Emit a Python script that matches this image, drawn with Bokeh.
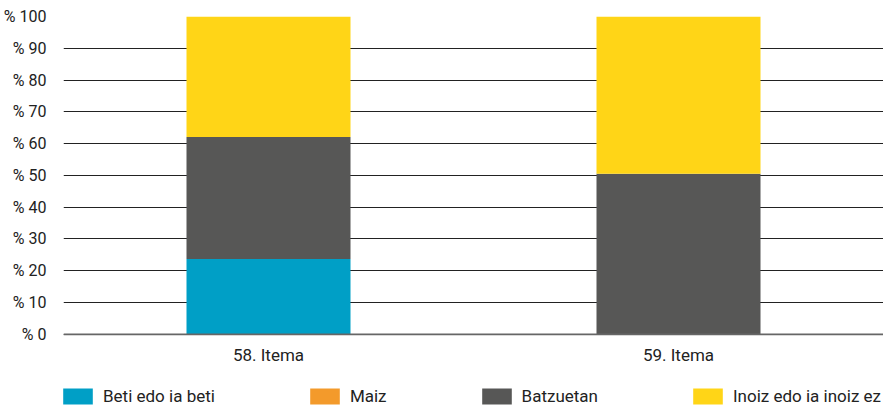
from bokeh.plotting import figure
from bokeh.models import ColumnDataSource, FixedTicker, Legend, LegendItem, FactorRange, Span
from bokeh.core.properties import value
from bokeh.embed import file_html
from bokeh.resources import INLINE

items = ["58. Itema", "59. Itema"]
series = ["Beti edo ia beti", "Maiz", "Batzuetan", "Inoiz edo ia inoiz ez"]
beti = [23.7, 0.0]
maiz = [0.0, 0.0]
batzuetan = [38.4, 50.5]
inoiz = [37.9, 49.5]
colors = ["#009FC6", "#F39A2B", "#575756", "#FFD517"]
y_ticks = [0, 10, 20, 30, 40, 50, 60, 70, 80, 90, 100]
y_labels = ["% " + str(t) for t in y_ticks]

FONT = "Roboto"

src = ColumnDataSource(dict(item=items, b=beti, m=maiz, z=batzuetan, i=inoiz,
                            base=[0] * len(items)))

p = figure(x_range=FactorRange(*items, range_padding=0), y_range=(-23.35, 100),
           width=883, height=408, output_backend="svg", toolbar_location=None,
           min_border_left=61, min_border_right=0, min_border_top=16, min_border_bottom=0)

rs = p.vbar_stack(["b", "m", "z", "i"], x="item", width=0.4, color=colors,
                  source=src, line_color=None)

p.text(x="item", y="base", text="item", source=src, y_offset=11,
       text_align="center", text_baseline="top", text_font=value(FONT),
       text_font_size="17px", text_color="#222222")

p.outline_line_color = None
p.xgrid.grid_line_color = None
p.xaxis.visible = False
p.ygrid.ticker = FixedTicker(ticks=y_ticks)
p.ygrid.grid_line_color = "#222222"
p.ygrid.grid_line_width = 1.2
p.add_layout(Span(location=0, dimension="width", line_color="#666666", line_width=1.8))
p.yaxis.ticker = FixedTicker(ticks=y_ticks)
p.yaxis.major_label_overrides = {t: l for t, l in zip(y_ticks, y_labels)}
p.yaxis.axis_line_color = None
p.yaxis.major_tick_line_color = None
p.yaxis.minor_tick_line_color = None
p.yaxis.major_label_standoff = 11
p.yaxis.major_label_text_font = FONT
p.yaxis.major_label_text_font_size = "16px"
p.yaxis.major_label_text_color = "#222222"

legend = Legend(items=[LegendItem(label=n, renderers=[r]) for n, r in zip(series, rs)],
                location=(-4, 2), orientation="horizontal", padding=0, margin=0,
                spacing=91, border_line_color=None, background_fill_alpha=0,
                glyph_width=37, glyph_height=20, label_standoff=7,
                label_text_font=FONT, label_text_font_size="17px",
                label_text_color="#222222", label_height=20)
p.add_layout(legend, "center")

open("out.html", "w").write(file_html(p, INLINE))
